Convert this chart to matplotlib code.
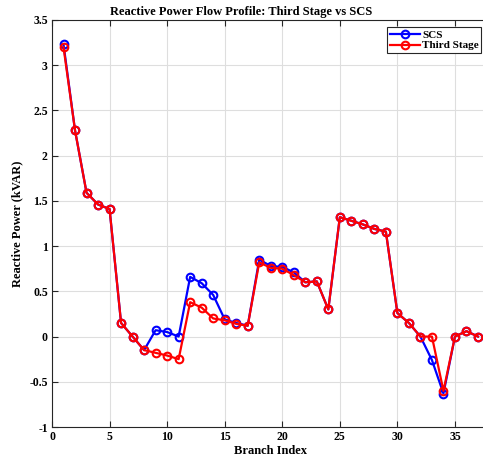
import matplotlib
matplotlib.use("Agg")
import matplotlib.pyplot as plt
import numpy as np

branch = list(range(1, 38))
scs = [3.23, 2.28, 1.59, 1.46, 1.41, 0.15, 0.00, -0.15, 0.07, 0.05, 0.00,
       0.66, 0.59, 0.46, 0.19, 0.15, 0.12, 0.85, 0.78, 0.77, 0.71, 0.60,
       0.61, 0.30, 1.32, 1.28, 1.24, 1.19, 1.16, 0.26, 0.15, 0.00, -0.26,
       -0.63, 0.00, 0.06, 0.00]
third = [3.20, 2.28, 1.59, 1.46, 1.41, 0.15, 0.00, -0.15, -0.18, -0.21, -0.25,
         0.38, 0.32, 0.20, 0.18, 0.14, 0.12, 0.82, 0.76, 0.75, 0.68, 0.60,
         0.61, 0.30, 1.32, 1.28, 1.24, 1.19, 1.16, 0.26, 0.15, 0.00, 0.00,
         -0.60, 0.00, 0.06, 0.00]
xticks = [0, 5, 10, 15, 20, 25, 30, 35]
yticks = [-1, -0.5, 0, 0.5, 1, 1.5, 2, 2.5, 3, 3.5]
ytick_labels = ['-1', '-0.5', '0', '0.5', '1', '1.5', '2', '2.5', '3', '3.5']

plt.rcParams['font.family'] = ['Liberation Serif', 'DejaVu Serif']
plt.rcParams['font.weight'] = 'bold'

fig = plt.figure(figsize=(4.83, 4.63), dpi=100)
ax = fig.add_axes([52/483, 36/463, 437.5/483, 407/463])

ax.plot(branch, scs, '-o', color='#0000ff', lw=1.6, ms=5.5, mew=1.5,
        mfc='none', label='SCS', zorder=3)
ax.plot(branch, third, '-o', color='#ff0000', lw=1.6, ms=5.5, mew=1.5,
        mfc='none', label='Third Stage', zorder=4)

ax.set_xlim(0, 38)
ax.set_ylim(-1, 3.5)
ax.set_xticks(xticks)
ax.set_yticks(yticks)
ax.set_yticklabels(ytick_labels)
ax.tick_params(direction='in', length=4, width=0.8, labelsize=8.5, top=True,
               right=True, colors='#262626', labelcolor='black', pad=3)
for lab in ax.get_xticklabels() + ax.get_yticklabels():
    lab.set_fontweight('bold')
ax.grid(True, color='#dedede', lw=0.8)
ax.set_axisbelow(True)
for s in ax.spines.values():
    s.set_color('#262626')
    s.set_linewidth(0.8)

ax.set_xlabel('Branch Index', fontsize=9, fontweight='bold', labelpad=1)
ax.set_ylabel('Reactive Power (kVAR)', fontsize=9, fontweight='bold', labelpad=4)
fig.text(0.5, 0.975, 'Reactive Power Flow Profile: Third Stage vs SCS',
         ha='center', va='center', fontsize=9, fontweight='bold')

leg = ax.legend(loc='upper left', bbox_to_anchor=(387/483, 1 - 27/463),
                bbox_transform=fig.transFigure, fontsize=8, frameon=True,
                fancybox=False, edgecolor='#262626', framealpha=1,
                handlelength=2.7, borderpad=0.25, labelspacing=0.1,
                handletextpad=0.2, borderaxespad=0)
leg.get_frame().set_linewidth(0.8)
for t in leg.get_texts():
    t.set_fontweight('bold')

fig.savefig('out.png', dpi=100)
